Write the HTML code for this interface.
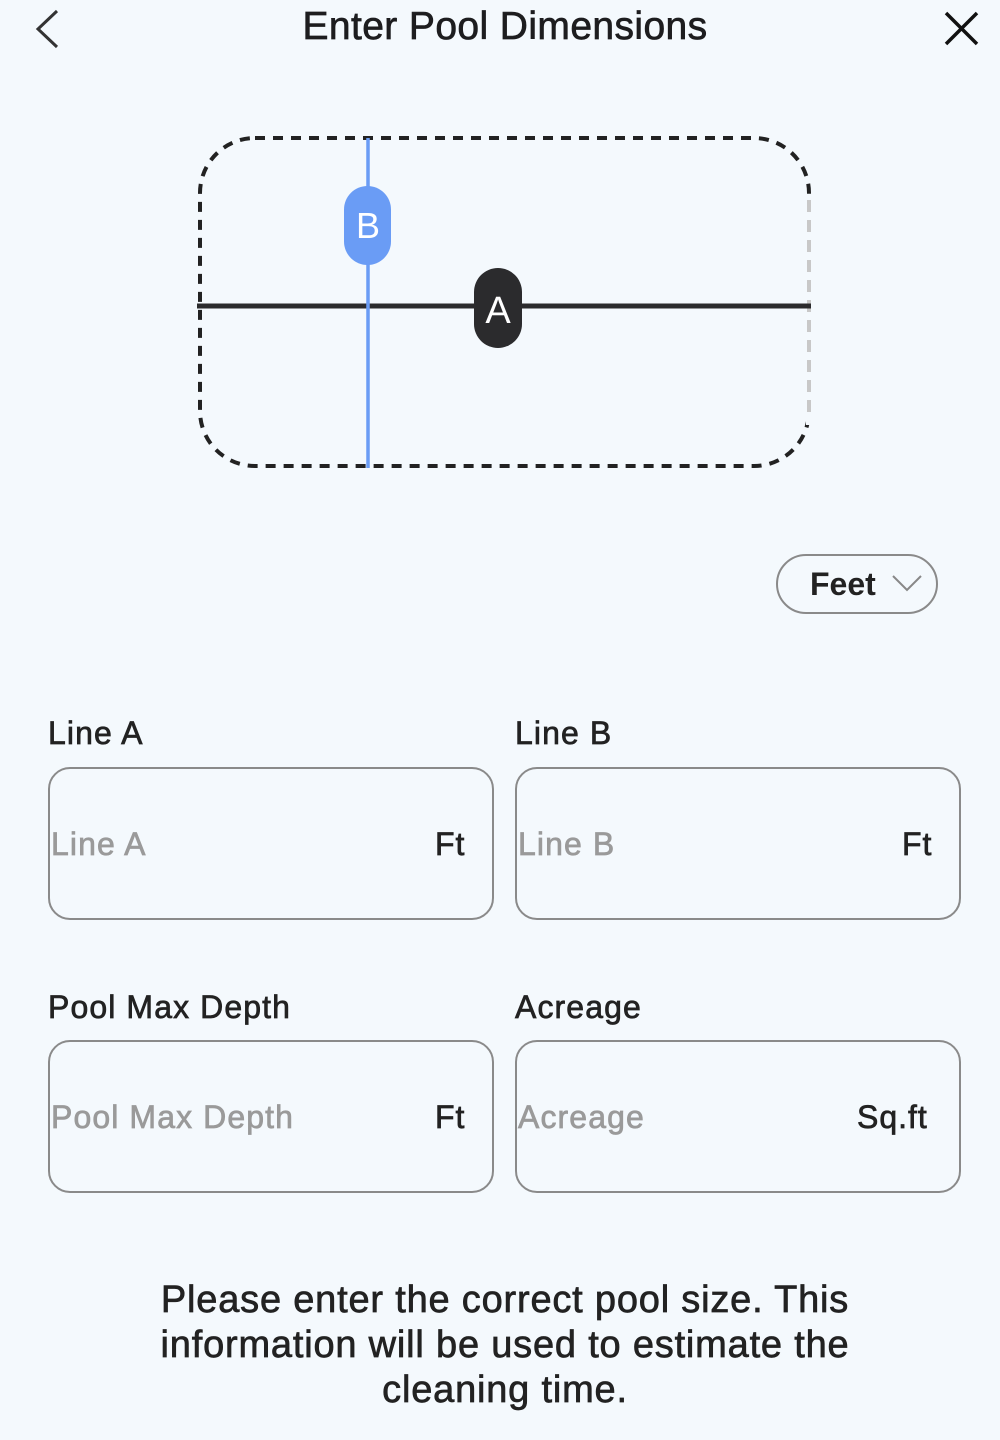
<!DOCTYPE html>
<html><head><meta charset="utf-8"><style>
body{margin:0;width:1000px;height:1440px;background:#f4f9fd;font-family:"Liberation Sans",Arial,sans-serif;position:relative;overflow:hidden;color:#222}
.a{position:absolute}
.m{-webkit-text-stroke:0.7px currentColor}
.title{left:0;width:1010px;text-align:center;top:5px;font-size:39px;color:#1d1d1f;letter-spacing:0.4px}
.lbl{font-size:32px;color:#222;letter-spacing:1.1px}
.box{border:2px solid #8a8a8a;border-radius:22px;width:446px;height:153px;box-sizing:border-box}
.ph{font-size:32px;color:#9a9a9a;letter-spacing:1.1px}
.unit{font-size:32px;color:#222;letter-spacing:1px}
.note{left:120px;width:770px;text-align:center;top:1278px;font-size:38px;line-height:45px;color:#222;letter-spacing:0.8px}
</style></head><body>
<svg class="a" style="left:0;top:0" width="1000" height="1440">
<path d="M57 11 L38 29 L57 47" fill="none" stroke="#333" stroke-width="3"/>
<path d="M946 13 L977 44 M977 13 L946 44" stroke="#111" stroke-width="3.5"/>
<rect x="200" y="138" width="609" height="328" rx="55" fill="none" stroke="#222" stroke-width="4" stroke-dasharray="10 8"/>
<line x1="809" y1="195" x2="809" y2="425" stroke="#f4f9fd" stroke-width="6"/>
<line x1="809" y1="200" x2="809" y2="420" stroke="#c8c8c8" stroke-width="4" stroke-dasharray="12 8"/>
<line x1="197" y1="306" x2="811" y2="306" stroke="#2b2b2d" stroke-width="5"/>
<line x1="368" y1="138" x2="368" y2="468" stroke="#6a9cf5" stroke-width="3.5"/>
<rect x="344" y="186" width="47" height="79" rx="23.5" fill="#6a9cf5"/>
<text x="368" y="238" text-anchor="middle" font-size="36" fill="#fff" font-family="Liberation Sans">B</text>
<rect x="474" y="268" width="48" height="80" rx="24" fill="#2b2b2d"/>
<text x="498" y="323" text-anchor="middle" font-size="38" fill="#fff" font-family="Liberation Sans">A</text>
<rect x="777" y="555" width="160" height="58" rx="29" fill="none" stroke="#8a8a8a" stroke-width="2"/>
<path d="M893 576 L907 590 L921 576" fill="none" stroke="#888" stroke-width="2"/>
</svg>
<div class="a title m">Enter Pool Dimensions</div>
<div class="a" style="left:810px;top:566px;font-size:32px;font-weight:bold;color:#222">Feet</div>
<div class="a lbl m" style="left:48px;top:715px">Line A</div>
<div class="a lbl m" style="left:515px;top:715px">Line B</div>
<div class="a box" style="left:48px;top:767px"></div>
<div class="a box" style="left:515px;top:767px"></div>
<div class="a ph m" style="left:51px;top:826px">Line A</div>
<div class="a unit m" style="left:435px;top:826px">Ft</div>
<div class="a ph m" style="left:518px;top:826px">Line B</div>
<div class="a unit m" style="left:902px;top:826px">Ft</div>
<div class="a lbl m" style="left:48px;top:989px">Pool Max Depth</div>
<div class="a lbl m" style="left:515px;top:989px">Acreage</div>
<div class="a box" style="left:48px;top:1040px"></div>
<div class="a box" style="left:515px;top:1040px"></div>
<div class="a ph m" style="left:51px;top:1099px">Pool Max Depth</div>
<div class="a unit m" style="left:435px;top:1099px">Ft</div>
<div class="a ph m" style="left:518px;top:1099px">Acreage</div>
<div class="a unit m" style="left:857px;top:1099px">Sq.ft</div>
<div class="a note m">Please enter the correct pool size. This information will be used to estimate the cleaning time.</div>
</body></html>
